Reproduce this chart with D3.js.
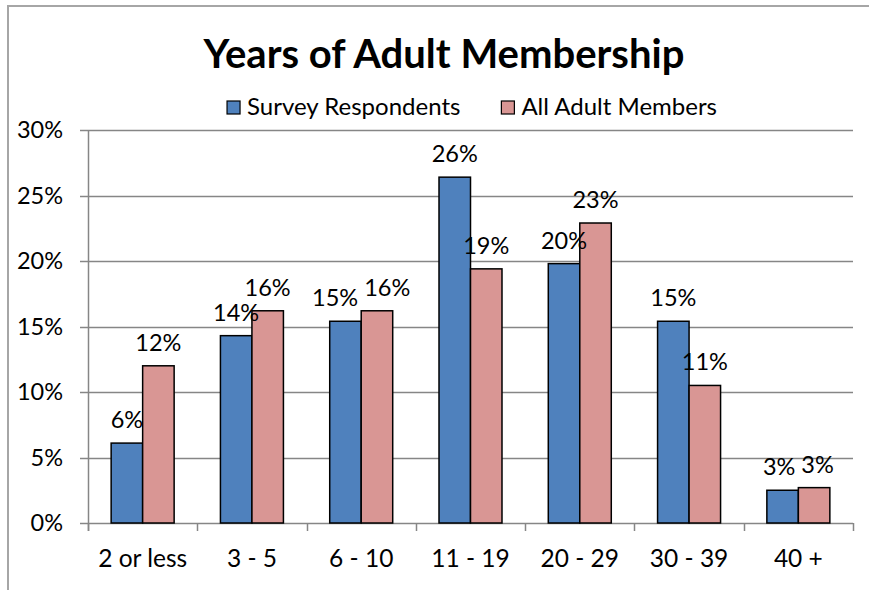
<!DOCTYPE html>
<html>
<head>
<meta charset="utf-8">
<script src="https://cdn.jsdelivr.net/npm/d3@7"></script>
<style>
  html, body { margin: 0; padding: 0; background: #fff; }
  svg { display: block; font-family: Lato, "Open Sans", sans-serif; }
</style>
</head>
<body>
<svg id="chart" width="869" height="590"></svg>
<script>
// ---- data ----
const title = "Years of Adult Membership";
const categories = ["2 or less", "3 - 5", "6 - 10", "11 - 19", "20 - 29", "30 - 39", "40 +"];
const seriesNames = ["Survey Respondents", "All Adult Members"];
const surveyRespondents = [0.061, 0.143, 0.154, 0.264, 0.198, 0.154, 0.025];
const allAdultMembers   = [0.120, 0.162, 0.162, 0.194, 0.229, 0.105, 0.027];
const yTicks = [0, 0.05, 0.10, 0.15, 0.20, 0.25, 0.30];
const seriesColors = ["#4F81BD", "#D99694"];

const seriesValues = [surveyRespondents, allAdultMembers];

// ---- layout ----
const W = 869, H = 590;
const plot = { left: 88, right: 853, top: 130, bottom: 523 };
const svg = d3.select("#chart");
const fmt = d3.format(".0%");

// outer frame (partially visible)
svg.append("path")
  .attr("d", `M8,${H} L8,6 L${W},6`)
  .attr("fill", "none").attr("stroke", "#A6A6A6").attr("stroke-width", 2);

const x0 = d3.scaleBand().domain(categories).range([plot.left, plot.right]).paddingInner(0).paddingOuter(0);
const x1 = d3.scaleBand().domain(seriesNames).range([0, x0.bandwidth()]).paddingInner(0).paddingOuter(0.735);
const y = d3.scaleLinear().domain([0, 0.30]).range([plot.bottom, plot.top]);

// gridlines
svg.append("g").selectAll("line").data(yTicks).join("line")
  .attr("x1", plot.left - 8).attr("x2", plot.right)
  .attr("y1", d => Math.round(y(d)) + 0.5).attr("y2", d => Math.round(y(d)) + 0.5)
  .attr("stroke", "#868686").attr("stroke-width", 1.5);

// y axis
const yAxis = d3.axisLeft(y).tickValues(yTicks).tickFormat(fmt).tickSize(0).tickPadding(25);
const gy = svg.append("g").attr("transform", `translate(${plot.left},0)`).call(yAxis);
gy.select(".domain").remove();
gy.selectAll("text").attr("font-size", 23.5).attr("fill", "#000").attr("font-family", "Lato, sans-serif");
svg.append("line")
  .attr("x1", plot.left + 0.5).attr("x2", plot.left + 0.5)
  .attr("y1", plot.top).attr("y2", plot.bottom + 8)
  .attr("stroke", "#868686").attr("stroke-width", 1.5);

// x axis ticks at category boundaries
const boundaries = categories.map(c => x0(c)).concat([x0(categories[categories.length - 1]) + x0.bandwidth()]);
svg.append("g").selectAll("line").data(boundaries).join("line")
  .attr("x1", d => Math.round(d) + 0.5).attr("x2", d => Math.round(d) + 0.5)
  .attr("y1", plot.bottom).attr("y2", plot.bottom + 8)
  .attr("stroke", "#868686").attr("stroke-width", 1.5);

const xAxis = d3.axisBottom(x0).tickSize(0).tickPadding(27);
const gx = svg.append("g").attr("transform", `translate(0,${plot.bottom})`).call(xAxis);
gx.select(".domain").remove();
gx.selectAll("text").attr("font-size", 24.5).attr("fill", "#000").attr("font-family", "Lato, sans-serif");

// bars
const rows = categories.map((c, i) => ({ cat: c, vals: seriesNames.map((s, j) => ({ s, j, v: seriesValues[j][i] })) }));
const groups = svg.append("g").selectAll("g").data(rows).join("g")
  .attr("transform", d => `translate(${x0(d.cat)},0)`);
groups.selectAll("rect").data(d => d.vals).join("rect")
  .attr("x", d => x1(d.s))
  .attr("y", d => y(d.v))
  .attr("width", x1.bandwidth())
  .attr("height", d => y(0) - y(d.v))
  .attr("fill", d => seriesColors[d.j])
  .attr("stroke", "#000").attr("stroke-width", 1.5);

// data labels, nudged apart when they would collide
const labelSize = 23.5;
groups.each(function (row) {
  const g = d3.select(this);
  const labels = g.selectAll("text.lbl").data(row.vals).join("text")
    .attr("class", "lbl")
    .attr("x", d => x1(d.s) + x1.bandwidth() / 2)
    .attr("y", d => y(d.v) - 15)
    .attr("text-anchor", "middle")
    .attr("font-size", labelSize).attr("fill", "#000")
    .text(d => fmt(d.v));
  const nodes = labels.nodes();
  const a = nodes[0], b = nodes[1];
  const wa = a.getComputedTextLength(), wb = b.getComputedTextLength();
  const ya = +a.getAttribute("y"), yb = +b.getAttribute("y");
  const xa = +a.getAttribute("x"), xb = +b.getAttribute("x");
  if (Math.abs(ya - yb) < labelSize) {
    const need = (wa + wb) / 2 + 6 - (xb - xa);
    if (need > 0) {
      a.setAttribute("x", xa - need / 2);
      b.setAttribute("x", xb + need / 2);
    }
  }
});

// title
svg.append("text")
  .attr("x", 444).attr("y", 68)
  .attr("text-anchor", "middle")
  .attr("font-size", 40).attr("font-weight", "bold").attr("fill", "#000")
  .text(title);

// legend
const legend = svg.append("g");
const items = legend.selectAll("g").data(seriesNames).join("g");
items.append("rect")
  .attr("width", 13).attr("height", 13).attr("y", -14)
  .attr("fill", (d, i) => seriesColors[i]).attr("stroke", "#000").attr("stroke-width", 1.2);
items.append("text")
  .attr("x", 20).attr("y", 0)
  .attr("font-size", 24).attr("fill", "#000")
  .text(d => d);
const widths = [];
items.each(function () { widths.push(this.getBBox().width); });
const gap = 41;
const totalW = d3.sum(widths) + gap * (widths.length - 1);
const legendCenter = 472;
let cx = legendCenter - totalW / 2;
items.attr("transform", (d, i) => {
  const t = `translate(${cx},115)`;
  cx += widths[i] + gap;
  return t;
});
</script>
</body>
</html>
